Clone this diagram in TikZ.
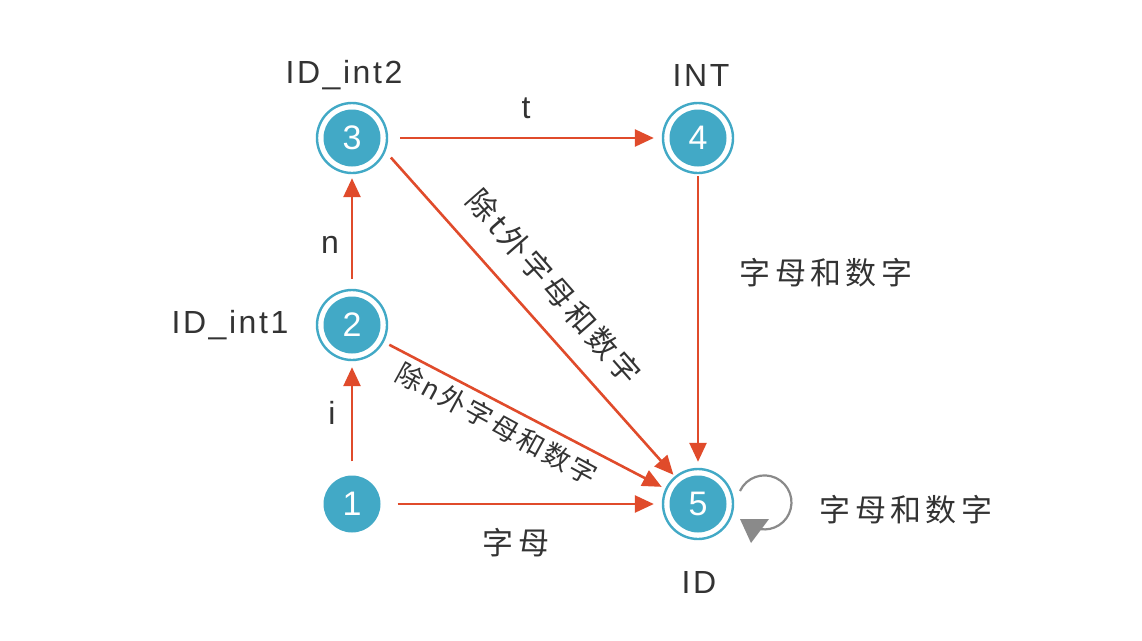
\documentclass[tikz,border=0pt]{standalone}
\usepackage{fontspec}
\setmainfont{Liberation Sans}
\newfontfamily\cjk{Noto Sans CJK SC}
\usetikzlibrary{arrows.meta}
\definecolor{nblue}{HTML}{42A9C6}
\definecolor{ered}{HTML}{E04B2B}
\definecolor{tgray}{HTML}{333333}
\definecolor{lgray}{HTML}{8A8A8A}
\begin{document}
\begin{tikzpicture}[x=1pt,y=-1pt,
  state/.style={circle, fill=nblue, text=white, minimum size=57pt, inner sep=0pt,
    font=\fontsize{34}{34}\selectfont},
  accept/.style={circle, draw=nblue, line width=2.4pt, fill=white, minimum size=70pt,
    inner sep=0pt, text=white, font=\fontsize{34}{34}\selectfont,
    path picture={\fill[nblue] (path picture bounding box.center) circle[radius=28.5pt];}},
  tr/.style={draw=ered, line width=2.6pt, -{Triangle[length=19pt,width=17pt]}},
  lbl/.style={text=tgray, font=\fontsize{32}{32}\selectfont\addfontfeatures{LetterSpace=8}},
  zh/.style={text=tgray, font=\cjk\fontsize{31}{31}\selectfont\addfontfeatures{LetterSpace=14}},
  zhm/.style={text=tgray, font=\cjk\fontsize{30}{30}\selectfont\addfontfeatures{LetterSpace=12}},
  zhs/.style={text=tgray, font=\cjk\fontsize{27}{27}\selectfont\addfontfeatures{LetterSpace=10}}
]
\useasboundingbox (0,0) rectangle (1142,640);

\node[state]  (n1) at (352,504) {1};
\node[accept] (n2) at (352,325) {2};
\node[accept] (n3) at (352,138) {3};
\node[accept] (n4) at (698,138) {4};
\node[accept] (n5) at (698,504) {5};

\node[lbl] (l3) at (344,75) {ID\_int2};
\node[lbl] (l4) at (701,75) {INT};
\node[lbl] (l2) at (230,325) {ID\_int1};
\node[lbl] (l5) at (699,582) {ID};

\draw[tr, shorten <=14pt, shorten >=6pt] (n1) -- (n2);
\draw[tr, shorten <=10pt, shorten >=4pt] (n2) -- (n3);
\draw[tr, shorten <=12pt, shorten >=8pt] (n3) -- (n4);
\draw[tr, shorten <=2pt, shorten >=6pt] (n4) -- (n5);
\draw[tr, shorten <=17pt, shorten >=8pt] (n1) -- (n5);
\draw[tr, shorten <=8pt, shorten >=2pt] (n3.-22) -- (n5.130);
\draw[tr, shorten <=6pt, shorten >=4pt] (n2.-28) -- (n5.155);

\node[lbl] (ti) at (332,413) {i};
\node[lbl] (tn) at (330,245) {n};
\node[lbl] (tt) at (526,108) {t};
\node[zh] (t15) at (516,543) {字母};
\node[zh] (t45) at (826,273) {字母和数字};
\node[zh] (t55) at (906,510) {字母和数字};
\node[zhm, rotate=-48.7] (t35) at (554,287) {除t外字母和数字};
\node[zhs, rotate=-28.6] (t25) at (497,424) {除n外字母和数字};

\coordinate (ls) at (740,491);
\draw[lgray, line width=2.2pt] (ls) arc[start angle=205, end angle=470, radius=27];
\fill[lgray] (740,519) -- (769,519) -- (751,543) -- cycle;
\end{tikzpicture}
\end{document}
